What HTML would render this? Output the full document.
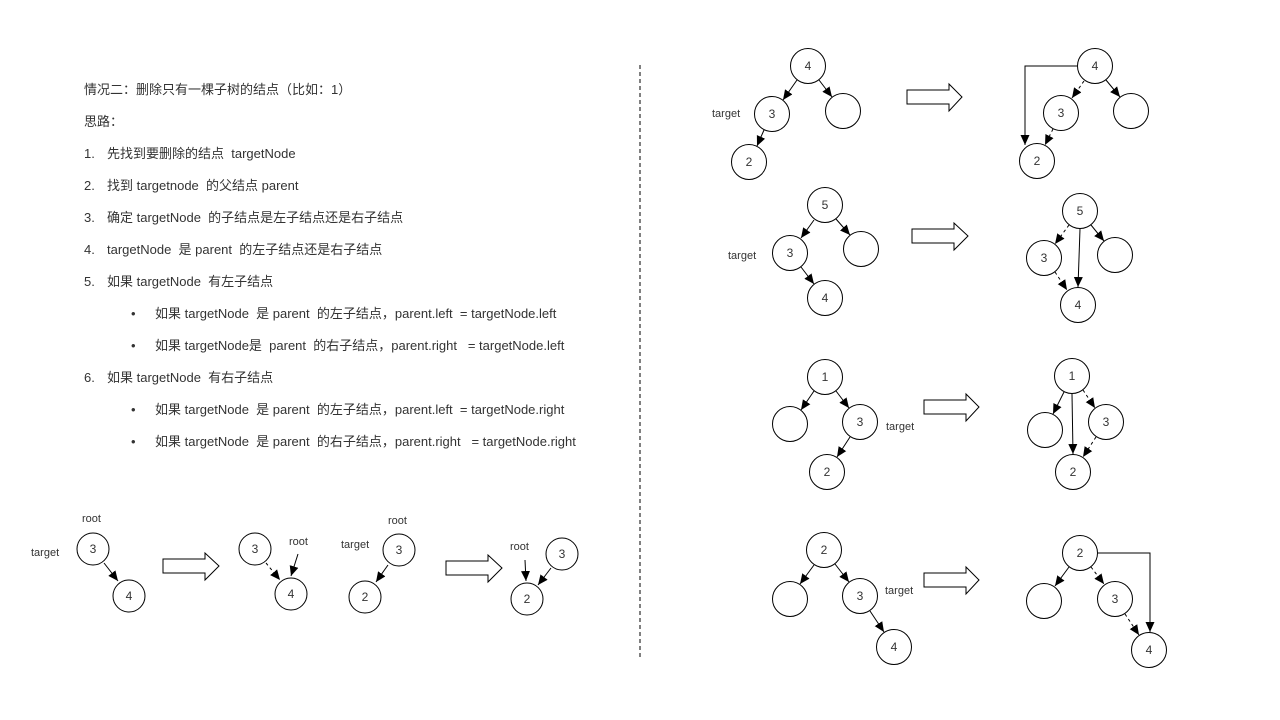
<!DOCTYPE html>
<html><head><meta charset="utf-8"><style>
body{margin:0;background:#fff;}
svg{display:block;font-family:"Liberation Sans","Noto Sans CJK SC",sans-serif;}
.t{font-size:13px;fill:#333;white-space:pre;}
.n{font-size:12px;fill:#333;text-anchor:middle;dominant-baseline:central;}
circle{fill:#fff;stroke:#000;stroke-width:1;}
line,polyline{stroke:#000;stroke-width:1;fill:none;}
.d{stroke-dasharray:3,3;}
.a{fill:#fff;stroke:#000;stroke-width:1;}
</style></head><body>
<svg width="1280" height="720" viewBox="0 0 1280 720">
<defs><marker id="m" markerWidth="12" markerHeight="12" refX="10" refY="6" orient="auto" markerUnits="userSpaceOnUse"><path d="M0,1.5 L10,6 L0,10.5 Z" fill="#000"/></marker></defs>
<line x1="640" y1="65" x2="640" y2="657" stroke="#ccc" stroke-dasharray="4,3"/>
<g class="t">
<text x="84" y="94" xml:space="preserve">情况二：删除只有一棵子树的结点（比如：1）</text>
<text x="84" y="126">思路：</text>
<text x="84" y="158">1.</text><text x="107" y="158" xml:space="preserve">先找到要删除的结点  targetNode</text>
<text x="84" y="190">2.</text><text x="107" y="190" xml:space="preserve">找到 targetnode  的父结点 parent</text>
<text x="84" y="222">3.</text><text x="107" y="222" xml:space="preserve">确定 targetNode  的子结点是左子结点还是右子结点</text>
<text x="84" y="254">4.</text><text x="107" y="254" xml:space="preserve">targetNode  是 parent  的左子结点还是右子结点</text>
<text x="84" y="286">5.</text><text x="107" y="286" xml:space="preserve">如果 targetNode  有左子结点</text>
<text x="131" y="318">•</text><text x="155" y="318" xml:space="preserve">如果 targetNode  是 parent  的左子结点，parent.left  = targetNode.left</text>
<text x="131" y="350">•</text><text x="155" y="350" xml:space="preserve">如果 targetNode是  parent  的右子结点，parent.right   = targetNode.left</text>
<text x="84" y="382">6.</text><text x="107" y="382" xml:space="preserve">如果 targetNode  有右子结点</text>
<text x="131" y="414">•</text><text x="155" y="414" xml:space="preserve">如果 targetNode  是 parent  的左子结点，parent.left  = targetNode.right</text>
<text x="131" y="446">•</text><text x="155" y="446" xml:space="preserve">如果 targetNode  是 parent  的右子结点，parent.right   = targetNode.right</text>
</g>
<g class="a">
<polygon points="907,90 949,90 949,84 962,97 949,111 949,104 907,104"/>
<polygon points="912,229 954,229 954,223 968,236 954,250 954,243 912,243"/>
<polygon points="924,400 966,400 966,394 979,407 966,421 966,414 924,414"/>
<polygon points="924,573 966,573 966,567 979,580 966,594 966,587 924,587"/>
<polygon points="163,559 205,559 205,553 219,566 205,580 205,573 163,573"/>
<polygon points="446,561 488,561 488,555 502,568 488,582 488,575 446,575"/>
</g>
<g marker-end="url(#m)">
<line x1="797" y1="80" x2="783" y2="100"/><line x1="819" y1="80" x2="832" y2="97"/><line x1="764" y1="130" x2="757" y2="146"/>
<line class="d" x1="1084" y1="81" x2="1072" y2="98"/><line x1="1106" y1="80" x2="1120" y2="97"/><line class="d" x1="1053" y1="129" x2="1045" y2="145"/>
<polyline points="1077,66 1025,66 1025,145"/>
<line x1="814" y1="220" x2="801" y2="238"/><line x1="836" y1="219" x2="850" y2="235"/><line x1="801" y1="267" x2="814" y2="284"/>
<line class="d" x1="1069" y1="225" x2="1055" y2="244"/><line x1="1091" y1="225" x2="1104" y2="241"/><line x1="1080" y1="229" x2="1078" y2="287"/><line class="d" x1="1055" y1="272" x2="1067" y2="290"/>
<line x1="814" y1="391" x2="801" y2="410"/><line x1="836" y1="391" x2="849" y2="408"/><line x1="850" y1="437" x2="837" y2="457"/>
<line x1="1064" y1="392" x2="1053" y2="414"/><line x1="1072" y1="394" x2="1073" y2="454"/><line class="d" x1="1083" y1="390" x2="1095" y2="408"/><line class="d" x1="1096" y1="437" x2="1083" y2="457"/>
<line x1="814" y1="565" x2="800" y2="584"/><line x1="835" y1="564" x2="849" y2="582"/><line x1="870" y1="611" x2="884" y2="632"/>
<line x1="1069" y1="567" x2="1055" y2="586"/><line class="d" x1="1091" y1="567" x2="1104" y2="584"/><line class="d" x1="1125" y1="614" x2="1139" y2="635"/>
<polyline points="1098,553 1150,553 1150,632"/>
<line x1="104" y1="563" x2="118" y2="581"/>
<line class="d" x1="266" y1="563" x2="280" y2="580"/><line x1="298" y1="554" x2="291" y2="576"/>
<line x1="388" y1="565" x2="376" y2="582"/><line x1="525" y1="560" x2="526" y2="581"/><line x1="551" y1="568" x2="538" y2="585"/>
</g>
<g>
<circle cx="808" cy="66" r="17.5"/><circle cx="772" cy="114" r="17.5"/><circle cx="843" cy="111" r="17.5"/><circle cx="749" cy="162" r="17.5"/>
<circle cx="1095" cy="66" r="17.5"/><circle cx="1061" cy="113" r="17.5"/><circle cx="1131" cy="111" r="17.5"/><circle cx="1037" cy="161" r="17.5"/>
<circle cx="825" cy="205" r="17.5"/><circle cx="790" cy="253" r="17.5"/><circle cx="861" cy="249" r="17.5"/><circle cx="825" cy="298" r="17.5"/>
<circle cx="1080" cy="211" r="17.5"/><circle cx="1044" cy="258" r="17.5"/><circle cx="1115" cy="255" r="17.5"/><circle cx="1078" cy="305" r="17.5"/>
<circle cx="825" cy="377" r="17.5"/><circle cx="790" cy="424" r="17.5"/><circle cx="860" cy="422" r="17.5"/><circle cx="827" cy="472" r="17.5"/>
<circle cx="1072" cy="376" r="17.5"/><circle cx="1045" cy="430" r="17.5"/><circle cx="1106" cy="422" r="17.5"/><circle cx="1073" cy="472" r="17.5"/>
<circle cx="824" cy="550" r="17.5"/><circle cx="790" cy="599" r="17.5"/><circle cx="860" cy="596" r="17.5"/><circle cx="894" cy="647" r="17.5"/>
<circle cx="1080" cy="553" r="17.5"/><circle cx="1044" cy="601" r="17.5"/><circle cx="1115" cy="599" r="17.5"/><circle cx="1149" cy="650" r="17.5"/>
<circle cx="93" cy="549" r="16"/><circle cx="129" cy="596" r="16"/>
<circle cx="255" cy="549" r="16"/><circle cx="291" cy="594" r="16"/>
<circle cx="399" cy="550" r="16"/><circle cx="365" cy="597" r="16"/>
<circle cx="562" cy="554" r="16"/><circle cx="527" cy="599" r="16"/>
</g>
<g class="n">
<text x="808" y="66">4</text><text x="772" y="114">3</text><text x="749" y="162">2</text>
<text x="1095" y="66">4</text><text x="1061" y="113">3</text><text x="1037" y="161">2</text>
<text x="825" y="205">5</text><text x="790" y="253">3</text><text x="825" y="298">4</text>
<text x="1080" y="211">5</text><text x="1044" y="258">3</text><text x="1078" y="305">4</text>
<text x="825" y="377">1</text><text x="860" y="422">3</text><text x="827" y="472">2</text>
<text x="1072" y="376">1</text><text x="1106" y="422">3</text><text x="1073" y="472">2</text>
<text x="824" y="550">2</text><text x="860" y="596">3</text><text x="894" y="647">4</text>
<text x="1080" y="553">2</text><text x="1115" y="599">3</text><text x="1149" y="650">4</text>
<text x="93" y="549">3</text><text x="129" y="596">4</text>
<text x="255" y="549">3</text><text x="291" y="594">4</text>
<text x="399" y="550">3</text><text x="365" y="597">2</text>
<text x="562" y="554">3</text><text x="527" y="599">2</text>
</g>
<g class="t" style="font-size:11px">
<text x="712" y="117">target</text><text x="728" y="259">target</text><text x="886" y="430">target</text><text x="885" y="594">target</text>
<text x="82" y="522">root</text><text x="31" y="556">target</text>
<text x="289" y="545">root</text>
<text x="388" y="524">root</text><text x="341" y="548">target</text>
<text x="510" y="550">root</text>
</g>
</svg>
</body></html>
